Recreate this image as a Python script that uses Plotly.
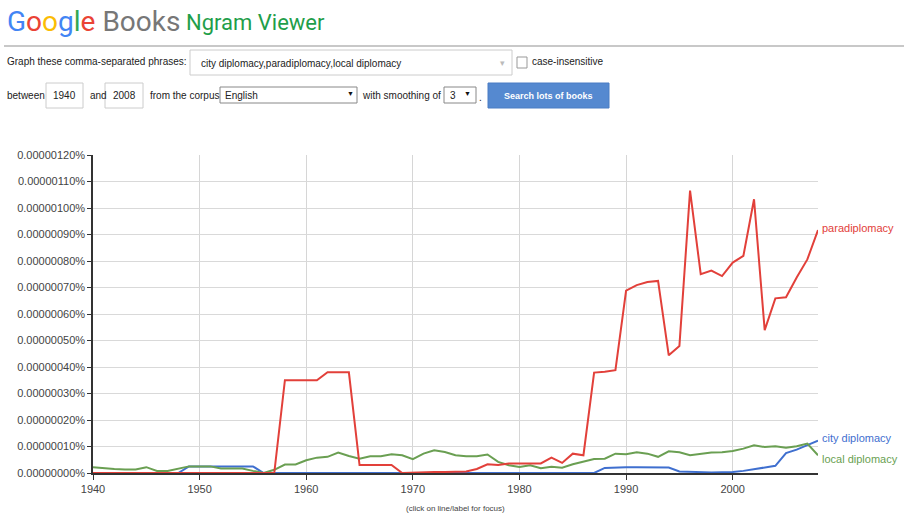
import plotly.graph_objects as go

YEARS = list(range(1940, 2009))

PARADIPLOMACY = [
    0, 0, 0, 0, 0, 0, 0, 0, 0, 0,
    0, 0, 0, 0, 0, 0, 0, 0, 3.50e-7, 3.50e-7,
    3.50e-7, 3.50e-7, 3.80e-7, 3.80e-7, 3.80e-7, 0.30e-7, 0.30e-7, 0.30e-7, 0.30e-7, 0.0,
    0.02e-7, 0.03e-7, 0.04e-7, 0.04e-7, 0.04e-7, 0.06e-7, 0.15e-7, 0.33e-7, 0.30e-7, 0.36e-7,
    0.36e-7, 0.36e-7, 0.36e-7, 0.58e-7, 0.38e-7, 0.73e-7, 0.67e-7, 3.79e-7, 3.82e-7, 3.88e-7,
    6.88e-7, 7.09e-7, 7.21e-7, 7.25e-7, 4.44e-7, 4.79e-7, 10.66e-7, 7.50e-7, 7.64e-7, 7.43e-7,
    7.94e-7, 8.19e-7, 10.33e-7, 5.39e-7, 6.59e-7, 6.63e-7, 7.38e-7, 8.06e-7, 9.17e-7,
]

CITY_DIPLOMACY = [
    0, 0, 0, 0, 0, 0, 0, 0, 0, 0.25e-7,
    0.25e-7, 0.25e-7, 0.25e-7, 0.25e-7, 0.25e-7, 0.25e-7, 0, 0, 0, 0,
    0, 0, 0, 0, 0, 0, 0, 0, 0, 0,
    0, 0, 0.02e-7, 0.02e-7, 0.02e-7, 0.02e-7, 0.02e-7, 0.02e-7, 0.01e-7, 0,
    0, 0, 0, 0, 0, 0, 0, 0, 0.19e-7, 0.21e-7,
    0.22e-7, 0.22e-7, 0.22e-7, 0.21e-7, 0.21e-7, 0.06e-7, 0.04e-7, 0.02e-7, 0.02e-7, 0.03e-7,
    0.04e-7, 0.08e-7, 0.15e-7, 0.21e-7, 0.27e-7, 0.75e-7, 0.88e-7, 1.05e-7, 1.22e-7,
]

LOCAL_DIPLOMACY = [
    0.22e-7, 0.18e-7, 0.15e-7, 0.13e-7, 0.13e-7, 0.22e-7, 0.08e-7, 0.08e-7, 0.16e-7, 0.25e-7,
    0.25e-7, 0.25e-7, 0.17e-7, 0.17e-7, 0.17e-7, 0.08e-7, 0.0, 0.12e-7, 0.32e-7, 0.32e-7,
    0.48e-7, 0.58e-7, 0.61e-7, 0.77e-7, 0.64e-7, 0.54e-7, 0.63e-7, 0.63e-7, 0.71e-7, 0.67e-7,
    0.52e-7, 0.73e-7, 0.86e-7, 0.79e-7, 0.67e-7, 0.63e-7, 0.63e-7, 0.70e-7, 0.42e-7, 0.29e-7,
    0.23e-7, 0.29e-7, 0.18e-7, 0.24e-7, 0.20e-7, 0.33e-7, 0.44e-7, 0.53e-7, 0.54e-7, 0.73e-7,
    0.71e-7, 0.78e-7, 0.73e-7, 0.61e-7, 0.82e-7, 0.78e-7, 0.67e-7, 0.73e-7, 0.77e-7, 0.78e-7,
    0.83e-7, 0.92e-7, 1.05e-7, 0.98e-7, 1.01e-7, 0.95e-7, 1.01e-7, 1.11e-7, 0.67e-7,
]

Y_TICKS = [i * 1e-7 for i in range(13)]
Y_TICK_LABELS = ["%.8f%%" % v for v in Y_TICKS]
X_TICKS = [1940, 1950, 1960, 1970, 1980, 1990, 2000]

RED = "#e2403a"
BLUE = "#3f6fcf"
GREEN = "#6a9f52"

W, H = 904, 516
ML, MR, MT, MB = 93, 86, 155, 43
PW, PH = W - ML - MR, H - MT - MB


def px(x):
    return (x - ML) / PW


def py(y):
    return (H - MB - y) / PH


FONT = "Arial, Liberation Sans, sans-serif"

fig = go.Figure()
series = [
    ("city diplomacy", CITY_DIPLOMACY, BLUE),
    ("local diplomacy", LOCAL_DIPLOMACY, GREEN),
    ("paradiplomacy", PARADIPLOMACY, RED),
]
for name, vals, col in series:
    fig.add_trace(go.Scatter(x=YEARS, y=vals, mode="lines", name=name,
                             line=dict(color=col, width=2), hoverinfo="skip"))

# end labels
label_shift = {"paradiplomacy": 2, "city diplomacy": 3, "local diplomacy": -4}
for name, vals, col in series:
    fig.add_annotation(x=YEARS[-1], y=vals[-1], xref="x", yref="y", text=name,
                       showarrow=False, xanchor="left", yanchor="middle", xshift=2,
                       yshift=label_shift[name],
                       font=dict(family=FONT, size=11, color=col))

shapes = []
ann = []

# header
google = ('<span style="color:#4285F4">G</span><span style="color:#EA4335">o</span>'
          '<span style="color:#FBBC05">o</span><span style="color:#4285F4">g</span>'
          '<span style="color:#34A853">l</span><span style="color:#EA4335">e</span>'
          ' <span style="color:#777777">Books</span>')
ann.append(dict(x=px(5), y=py(21), text=google, xanchor="left", yanchor="middle",
                font=dict(family="Roboto, Arial", size=28, color="#777")))
ann.append(dict(x=px(184), y=py(22), text="Ngram Viewer", xanchor="left", yanchor="middle",
                font=dict(family="Roboto, Arial", size=22, color="#1f9e4a")))
shapes.append(dict(type="line", x0=px(4), x1=px(904), y0=py(46), y1=py(46),
                   line=dict(color="#c8c8c8", width=2)))

small = dict(family=FONT, size=10, color="#222")


def text(x, y, t, anchor="left", font=small):
    ann.append(dict(x=px(x), y=py(y), text=t, xanchor=anchor, yanchor="middle", font=font))


def box(x0, y0, x1, y1, line="#cccccc", fill="#ffffff", w=1):
    shapes.append(dict(type="rect", x0=px(x0), x1=px(x1), y0=py(y0), y1=py(y1),
                       line=dict(color=line, width=w), fillcolor=fill))


# row 1
text(5, 62, "Graph these comma-separated phrases:")
box(190, 50, 512, 75)
text(199, 63, "city diplomacy,paradiplomacy,local diplomacy")
text(502, 63, "▾", anchor="center", font=dict(family=FONT, size=9, color="#bbb"))
box(517, 57, 527, 68, line="#999999")
text(530, 62, "case-insensitive")

# row 2
text(5, 95, "between")
box(46, 83, 83, 108)
text(64.5, 96, "1940", anchor="center")
text(88, 95, "and")
box(105, 83, 143, 108)
text(124, 96, "2008", anchor="center")
text(148, 95, "from the corpus")
box(220, 87, 357, 103, line="#888888")
text(223, 95, "English")
text(350, 94, "▼", anchor="center", font=dict(family=FONT, size=7, color="#111"))
text(360, 95, "with smoothing of")
box(444, 87, 476, 103, line="#888888")
text(448, 95, "3")
text(467, 94, "▼", anchor="center", font=dict(family=FONT, size=7, color="#111"))
text(477, 97, ".")
box(488, 83, 609, 108, line="#4a7dc4", fill="#5589d0")
text(548.5, 95.5, "<b>Search lots of books</b>", anchor="center",
     font=dict(family=FONT, size=9, color="#ffffff"))

# footnote
text(455, 508, "(click on line/label for focus)", anchor="center",
     font=dict(family=FONT, size=8, color="#444"))

for a in ann:
    a.update(xref="paper", yref="paper", showarrow=False)
    fig.add_annotation(**a)
for s in shapes:
    s.update(xref="paper", yref="paper", layer="below")

fig.update_layout(
    width=W, height=H,
    margin=dict(l=ML, r=MR, t=MT, b=MB, pad=0),
    paper_bgcolor="#ffffff", plot_bgcolor="#ffffff",
    showlegend=False,
    shapes=shapes,
    font=dict(family=FONT, size=11, color="#444"),
)
fig.update_xaxes(range=[1940, 2008], tickvals=X_TICKS, ticktext=[str(v) for v in X_TICKS],
                 showgrid=True, gridcolor="#d6d6d6", gridwidth=1,
                 showline=True, linecolor="#333333", linewidth=2,
                 ticks="outside", ticklen=5, tickcolor="#333333",
                 tickfont=dict(family=FONT, size=11, color="#444"), zeroline=False)
fig.update_yaxes(range=[0, 1.2e-6], tickvals=Y_TICKS, ticktext=Y_TICK_LABELS,
                 showgrid=True, gridcolor="#d9d9d9", gridwidth=1,
                 showline=True, linecolor="#333333", linewidth=1.5,
                 ticks="outside", ticklen=4, tickcolor="#333333",
                 tickfont=dict(family=FONT, size=11, color="#444"), zeroline=False)

fig.write_html("out.html", config={"displayModeBar": False},
               post_script="document.body.style.margin='0';document.body.style.overflow='hidden';")
